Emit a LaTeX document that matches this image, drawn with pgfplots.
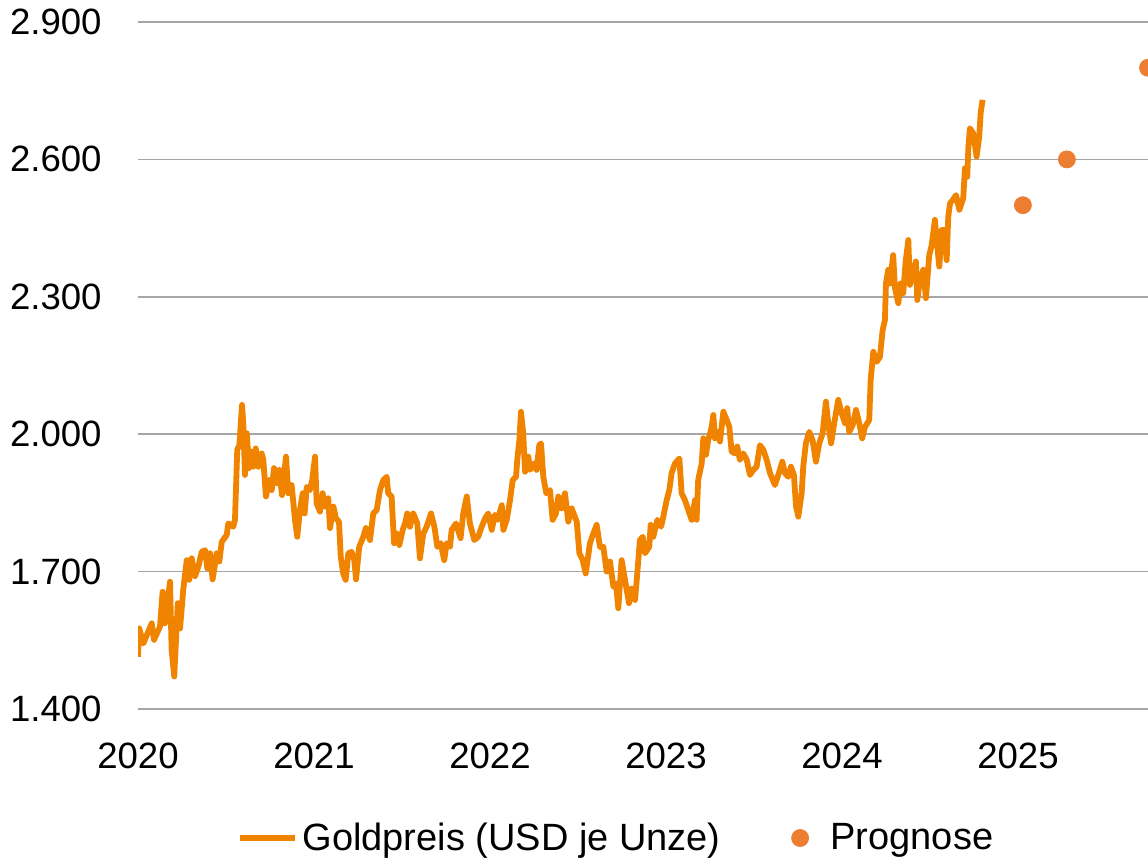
\documentclass[border=0pt]{standalone}
\usepackage{fontspec}
\setmainfont{Liberation Sans}
\usepackage{pgfplots}
\pgfplotsset{compat=1.18}
\definecolor{goldline}{RGB}{240,131,0}
\definecolor{progdot}{RGB}{237,125,49}
\definecolor{gridgray}{RGB}{166,166,166}
\begin{document}
\begin{tikzpicture}
\begin{axis}[
  scale only axis,
  width=505pt, height=343.5pt,
  xmin=2020, xmax=2025.739,
  ymin=1400, ymax=2900,
  axis line style={draw=none},
  major tick length=0pt,
  xtick={2020,2021,2022,2023,2024,2025},
  xticklabels={2020,2021,2022,2023,2024,2025},
  ytick={1400,1700,2000,2300,2600,2900},
  yticklabels={1.400,1.700,2.000,2.300,2.600,2.900},
  ymajorgrids,
  grid style={gridgray, line width=0.8pt},
  /pgf/number format/assume math mode=true,
  tick label style={font=\fontsize{18.3}{22}\selectfont, inner sep=0pt},
  yticklabel style={anchor=east, xshift=-18pt},
  xticklabel style={anchor=north, yshift=-17pt},
  legend style={draw=none, fill=none, legend columns=2,
    at={(0.4723,-0.1878)}, anchor=center,
    font=\fontsize{19}{23}\selectfont,
    nodes={inner sep=0pt},
    inner xsep=0pt, inner ysep=0pt,
    /tikz/every odd column/.append style={column sep=2.5pt},
    /tikz/every even column/.append style={column sep=35.25pt}},
]
\addplot[goldline, line width=2.9pt, line join=round,
  legend image code/.code={\draw[goldline, line width=2.9pt] (0pt,0pt) -- (27.5pt,0pt);}]
coordinates {
(2020.000,1514) (2020.007,1576) (2020.030,1543) (2020.078,1587) (2020.091,1551)
(2020.125,1580) (2020.140,1656) (2020.153,1587) (2020.182,1678) (2020.191,1529)
(2020.206,1471) (2020.226,1631) (2020.239,1576) (2020.257,1660) (2020.277,1725)
(2020.291,1682) (2020.305,1729) (2020.324,1690) (2020.343,1711) (2020.362,1743)
(2020.381,1747) (2020.394,1707) (2020.409,1740) (2020.424,1683) (2020.447,1740)
(2020.462,1722) (2020.476,1765) (2020.504,1780) (2020.513,1805) (2020.541,1798)
(2020.551,1813) (2020.564,1966) (2020.576,1976) (2020.591,2064) (2020.598,2024)
(2020.608,1911) (2020.618,2002) (2020.631,1926) (2020.642,1962) (2020.655,1929)
(2020.669,1969) (2020.684,1929) (2020.703,1958) (2020.712,1944) (2020.727,1864)
(2020.746,1900) (2020.760,1878) (2020.773,1926) (2020.788,1893) (2020.803,1922)
(2020.818,1867) (2020.841,1951) (2020.854,1871) (2020.873,1889) (2020.892,1813)
(2020.905,1776) (2020.920,1834) (2020.936,1871) (2020.947,1827) (2020.959,1885)
(2020.977,1878) (2020.990,1900) (2021.006,1951) (2021.015,1849) (2021.034,1831)
(2021.049,1871) (2021.063,1842) (2021.081,1860) (2021.091,1795) (2021.110,1842)
(2021.125,1816) (2021.142,1809) (2021.152,1733) (2021.166,1696) (2021.180,1682)
(2021.195,1740) (2021.214,1743) (2021.229,1725) (2021.239,1683) (2021.257,1754)
(2021.280,1776) (2021.295,1795) (2021.318,1769) (2021.337,1827) (2021.356,1834)
(2021.375,1878) (2021.394,1900) (2021.413,1907) (2021.422,1871) (2021.441,1864)
(2021.455,1762) (2021.470,1783) (2021.485,1758) (2021.504,1791) (2021.517,1805)
(2021.530,1827) (2021.545,1798) (2021.564,1827) (2021.587,1805) (2021.602,1729)
(2021.621,1783) (2021.640,1798) (2021.665,1827) (2021.684,1798) (2021.701,1754)
(2021.720,1762) (2021.740,1725) (2021.754,1762) (2021.773,1754) (2021.782,1791)
(2021.807,1805) (2021.833,1773) (2021.848,1827) (2021.868,1864) (2021.886,1805)
(2021.911,1769) (2021.933,1776) (2021.953,1798) (2021.972,1816) (2021.990,1827)
(2022.010,1791) (2022.028,1824) (2022.044,1813) (2022.067,1845) (2022.076,1791)
(2022.095,1813) (2022.114,1856) (2022.129,1900) (2022.148,1907) (2022.155,1944)
(2022.167,1987) (2022.176,2049) (2022.189,2002) (2022.199,1918) (2022.218,1951)
(2022.227,1922) (2022.250,1936) (2022.265,1922) (2022.280,1976) (2022.290,1980)
(2022.303,1907) (2022.320,1871) (2022.341,1878) (2022.356,1813) (2022.375,1827)
(2022.388,1864) (2022.407,1838) (2022.426,1871) (2022.445,1809) (2022.464,1838)
(2022.493,1809) (2022.508,1740) (2022.527,1725) (2022.544,1696) (2022.568,1762)
(2022.587,1783) (2022.606,1802) (2022.625,1754) (2022.644,1754) (2022.663,1700)
(2022.682,1722) (2022.701,1667) (2022.716,1674) (2022.729,1620) (2022.748,1725)
(2022.767,1682) (2022.790,1631) (2022.805,1663) (2022.824,1638) (2022.834,1682)
(2022.852,1769) (2022.868,1776) (2022.881,1740) (2022.905,1754) (2022.913,1802)
(2022.928,1776) (2022.951,1813) (2022.972,1798) (2022.985,1820) (2023.004,1856)
(2023.019,1878) (2023.032,1915) (2023.051,1936) (2023.076,1947) (2023.089,1871)
(2023.108,1856) (2023.127,1834) (2023.146,1813) (2023.165,1856) (2023.174,1813)
(2023.183,1900) (2023.203,1936) (2023.212,1991) (2023.227,1955) (2023.240,1987)
(2023.260,2016) (2023.269,2042) (2023.278,1991) (2023.292,2005) (2023.307,1984)
(2023.326,2049) (2023.345,2031) (2023.360,2016) (2023.373,1962) (2023.392,1958)
(2023.405,1973) (2023.420,1944) (2023.439,1958) (2023.459,1944) (2023.477,1911)
(2023.496,1922) (2023.515,1929) (2023.534,1976) (2023.553,1966) (2023.572,1944)
(2023.591,1915) (2023.619,1889) (2023.644,1918) (2023.661,1940) (2023.676,1915)
(2023.695,1907) (2023.710,1929) (2023.727,1911) (2023.739,1842) (2023.752,1820)
(2023.771,1871) (2023.780,1929) (2023.795,1980) (2023.814,2005) (2023.833,1987)
(2023.852,1940) (2023.871,1980) (2023.890,2002) (2023.909,2071) (2023.922,2024)
(2023.938,1980) (2023.956,2024) (2023.979,2075) (2023.998,2046) (2024.017,2024)
(2024.030,2057) (2024.041,2005) (2024.061,2020) (2024.080,2053) (2024.098,2024)
(2024.115,1991) (2024.131,2016) (2024.155,2031) (2024.163,2118) (2024.178,2180)
(2024.197,2158) (2024.216,2169) (2024.231,2227) (2024.244,2249) (2024.250,2329)
(2024.263,2359) (2024.273,2329) (2024.291,2391) (2024.301,2319) (2024.320,2286)
(2024.333,2329) (2024.348,2308) (2024.362,2377) (2024.377,2424) (2024.386,2326)
(2024.405,2351) (2024.420,2377) (2024.428,2293) (2024.443,2337) (2024.462,2359)
(2024.477,2297) (2024.496,2391) (2024.510,2413) (2024.528,2468) (2024.538,2424)
(2024.553,2366) (2024.567,2446) (2024.581,2446) (2024.595,2380) (2024.604,2475)
(2024.614,2504) (2024.629,2511) (2024.648,2522) (2024.667,2490) (2024.689,2515)
(2024.699,2581) (2024.712,2562) (2024.718,2624) (2024.727,2668) (2024.746,2657)
(2024.765,2606) (2024.780,2650) (2024.788,2701) (2024.799,2730)
};
\addlegendentry{Goldpreis (USD je Unze)}
\addplot[only marks, mark=*, mark size=4.25pt, color=progdot,
  mark options={fill=progdot, draw=progdot},
  legend image code/.code={\fill[progdot] (0pt,0pt) circle (4.25pt); \path[draw=none,fill=none] (0pt,0pt) -- (12.75pt,0pt);}]
coordinates {(2025.028,2500) (2025.278,2600) (2025.739,2800)};
\addlegendentry{Prognose}
\end{axis}
\pgfresetboundingbox
\path[use as bounding box] ([xshift=-69pt,yshift=-75.5pt]current axis.south west) rectangle ([yshift=11pt]current axis.north east);
\end{tikzpicture}
\end{document}
